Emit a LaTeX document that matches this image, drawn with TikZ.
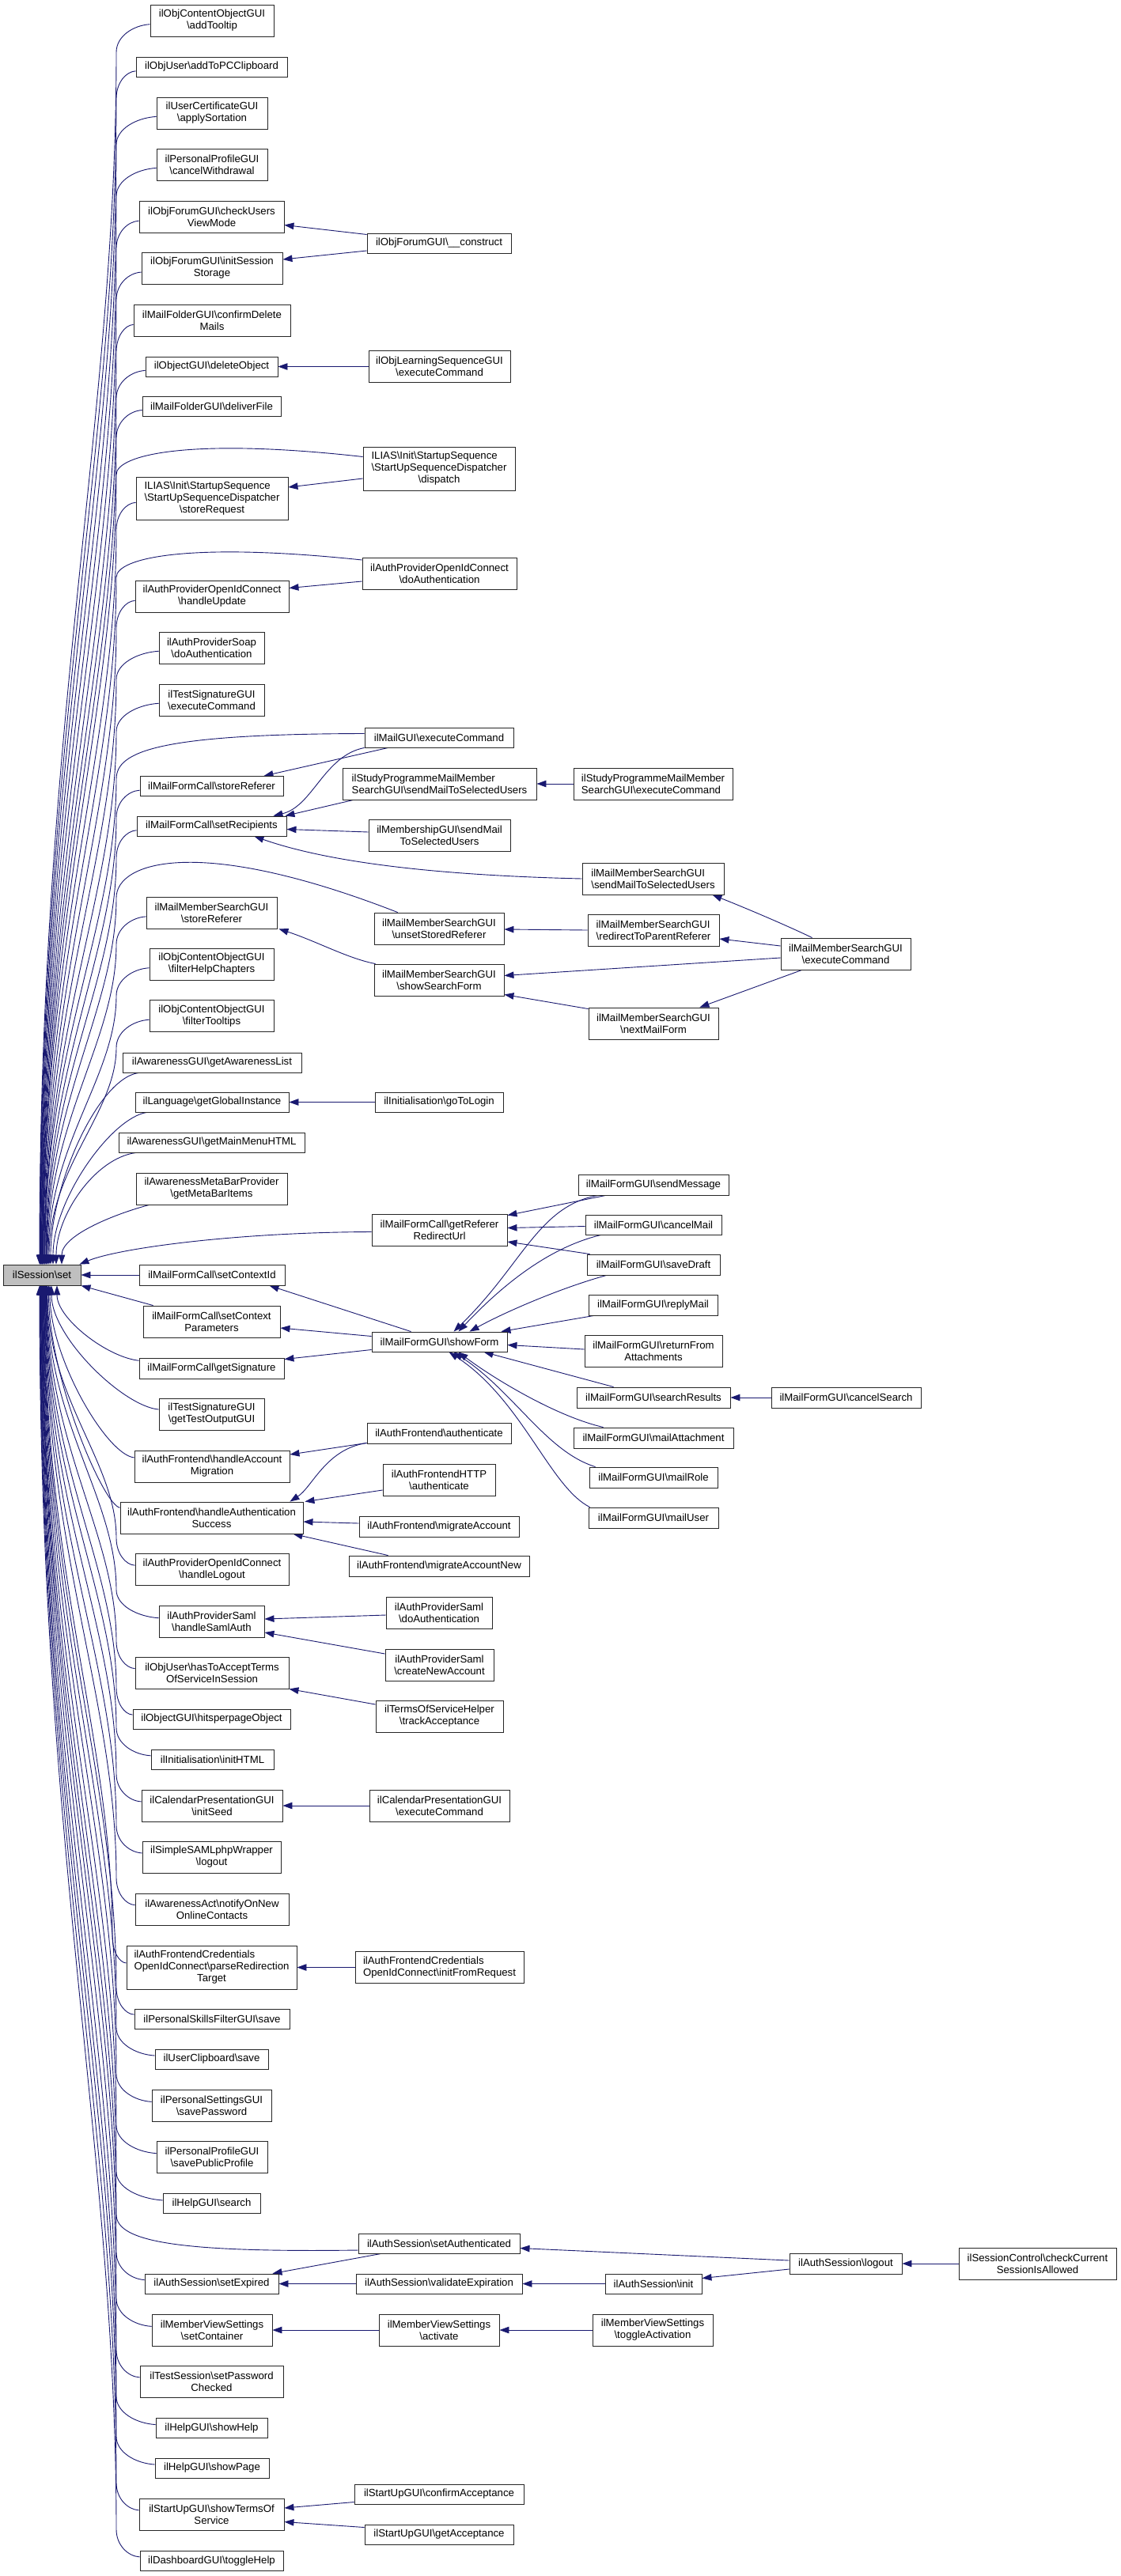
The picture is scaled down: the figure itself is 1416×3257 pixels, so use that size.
\documentclass[tikz,border=0pt]{standalone}
\usepackage{fontspec}
\setmainfont{Liberation Sans}
\usetikzlibrary{arrows.meta,calc}
\pgfdeclarelayer{bg}
\pgfsetlayers{bg,main}
\definecolor{edgeblue}{HTML}{191970}
\definecolor{setgray}{HTML}{BFBFBF}
\newcommand{\BSL}{\textbackslash}
\newcommand{\nodefontsel}{\fontsize{13.2pt}{15pt}\selectfont}
\tikzset{
  nbox/.style={draw=black!85, line width=0.9pt, fill=white, inner sep=0pt, align=center, font=\nodefontsel},
  conn/.style={draw=edgeblue, line width=0.9pt, {Triangle[length=12pt,width=8.5pt]}-}
}
\newcommand{\mynode}[6]{\node[nbox,minimum width=#4pt,minimum height=#5pt] (#1) at (#2,#3) {#6};}
\newcommand{\mynodel}[6]{\node[nbox,align=left,minimum width=#4pt,minimum height=#5pt] (#1) at (#2,#3) {#6};}
\newcommand{\fanU}[3]{%
  \draw[conn] let \p1=(#1.center), \p2=(set.north), \p3=(#1.west) in
    (#2pt,\y2) .. controls (#2pt,{(\y2)+0.45*((\y1)-40-(\y2))}) and (#3pt,{(\y1)-40-0.3*((\y1)-40-(\y2))}) .. (#3pt,{(\y1)-40})
    .. controls (#3pt,{(\y1)-20}) and ({0.5*((\x3)+#3pt)},{(\y1)-6}) .. (#1);}
\newcommand{\fanD}[3]{%
  \draw[conn] let \p1=(#1.center), \p2=(set.south), \p3=(#1.west) in
    (#2pt,\y2) .. controls (#2pt,{(\y2)+0.45*((\y1)+40-(\y2))}) and (#3pt,{(\y1)+40-0.3*((\y1)+40-(\y2))}) .. (#3pt,{(\y1)+40})
    .. controls (#3pt,{(\y1)+20}) and ({0.5*((\x3)+#3pt)},{(\y1)+6}) .. (#1);}
\newcommand{\fanUn}[4]{%
  \draw[conn] let \p1=(#1.center), \p2=(set.north), \p3=(#1.west) in
    (#2pt,\y2) .. controls (#2pt,{(\y2)+0.4*((\y1)-(\y2))}) and ({(\x3)-#3},{(\y1)-#4}) .. (#1);}
\newcommand{\fanDn}[4]{%
  \draw[conn] let \p1=(#1.center), \p2=(set.south), \p3=(#1.west) in
    (#2pt,\y2) .. controls (#2pt,{(\y2)+0.4*((\y1)-(\y2))}) and ({(\x3)-#3},{(\y1)+#4}) .. (#1);}
\begin{document}
\begin{tikzpicture}[x=1pt,y=-1pt]
\useasboundingbox (0,0) rectangle (1416,3257);
% ---------- first level ----------
\mynode{addTooltip}{268}{26}{156}{40}{ilObjContentObjectGUI\\\BSL addTooltip}
\mynode{addToPC}{267.5}{84.5}{191}{25}{ilObjUser\BSL addToPCClipboard}
\mynode{applySort}{268}{143}{140}{40}{ilUserCertificateGUI\\\BSL applySortation}
\mynode{cancelWithdrawal}{268}{208}{140}{40}{ilPersonalProfileGUI\\\BSL cancelWithdrawal}
\mynode{checkUsers}{267.5}{274}{183}{40}{ilObjForumGUI\BSL checkUsers\\ViewMode}
\mynode{initSession}{268}{339}{178}{40}{ilObjForumGUI\BSL initSession\\Storage}
\mynode{confirmDelete}{268}{405}{198}{40}{ilMailFolderGUI\BSL confirmDelete\\Mails}
\mynode{deleteObject}{267.5}{463.5}{167}{25}{ilObjectGUI\BSL deleteObject}
\mynode{deliverFile}{267.5}{513.5}{175}{25}{ilMailFolderGUI\BSL deliverFile}
\mynode{storeRequest}{268}{630}{192}{54}{\rlap{ILIAS\BSL Init\BSL StartupSequence}\phantom{\BSL StartUpSequenceDispatcher}\\\BSL StartUpSequenceDispatcher\\\BSL storeRequest}
\mynode{handleUpdate}{268}{754}{194}{40}{ilAuthProviderOpenIdConnect\\\BSL handleUpdate}
\mynode{soapAuth}{267.5}{819}{133}{40}{ilAuthProviderSoap\\\BSL doAuthentication}
\mynode{testSigExec}{267.5}{885}{133}{40}{ilTestSignatureGUI\\\BSL executeCommand}
\mynode{storeRefMFC}{267.5}{994}{181}{25}{ilMailFormCall\BSL storeReferer}
\mynode{setRecipients}{267.5}{1044.5}{189}{25}{ilMailFormCall\BSL setRecipients}
\mynode{mmsStoreRef}{267.5}{1154}{165}{40}{ilMailMemberSearchGUI\\\BSL storeReferer}
\mynode{filterHelp}{267.5}{1219}{157}{40}{ilObjContentObjectGUI\\\BSL filterHelpChapters}
\mynode{filterTooltips}{267.5}{1284.5}{157}{40}{ilObjContentObjectGUI\\\BSL filterTooltips}
\mynode{getAwareness}{268}{1343.5}{226}{25}{ilAwarenessGUI\BSL getAwarenessList}
\mynode{getGlobal}{268}{1393.5}{194}{25}{ilLanguage\BSL getGlobalInstance}
\mynode{getMainMenu}{267.5}{1444.5}{235}{25}{ilAwarenessGUI\BSL getMainMenuHTML}
\mynode{getMetaBar}{267.5}{1503}{191}{40}{ilAwarenessMetaBarProvider\\\BSL getMetaBarItems}
\node[nbox,fill=setgray,minimum width=98pt,minimum height=26pt] (set) at (53,1612) {ilSession\BSL set};
\mynode{setContextId}{268}{1612}{184}{26}{ilMailFormCall\BSL setContextId}
\mynode{setContextParams}{267.5}{1671}{173}{40}{ilMailFormCall\BSL setContext\\Parameters}
\mynode{getSignature}{267.5}{1730}{183}{26}{ilMailFormCall\BSL getSignature}
\mynode{getTestOutput}{267.5}{1788}{133}{40}{ilTestSignatureGUI\\\BSL getTestOutputGUI}
\mynode{handleAccMig}{268}{1854}{196}{40}{ilAuthFrontend\BSL handleAccount\\Migration}
\mynode{handleAuthSucc}{267.5}{1919}{231}{40}{ilAuthFrontend\BSL handleAuthentication\\Success}
\mynode{handleLogout}{268}{1984.5}{194}{40}{ilAuthProviderOpenIdConnect\\\BSL handleLogout}
\mynode{handleSaml}{267.5}{2050}{133}{40}{ilAuthProviderSaml\\\BSL handleSamlAuth}
\mynode{hasToAccept}{268}{2115}{194}{40}{ilObjUser\BSL hasToAcceptTerms\\OfServiceInSession}
\mynode{hitsperpage}{267.5}{2173.5}{199}{25}{ilObjectGUI\BSL hitsperpageObject}
\mynode{initHTML}{268.5}{2224.5}{155}{25}{ilInitialisation\BSL initHTML}
\mynode{initSeed}{268}{2283}{178}{40}{ilCalendarPresentationGUI\\\BSL initSeed}
\mynode{samlLogout}{267.5}{2348}{175}{40}{ilSimpleSAMLphpWrapper\\\BSL logout}
\mynode{notifyOnNew}{268}{2414}{194}{40}{ilAwarenessAct\BSL notifyOnNew\\OnlineContacts}
\mynode{parseRedir}{267.5}{2487.5}{215}{55}{\rlap{ilAuthFrontendCredentials}\phantom{OpenIdConnect\BSL parseRedirection}\\OpenIdConnect\BSL parseRedirection\\Target}
\mynode{skillsSave}{268}{2552.5}{196}{25}{ilPersonalSkillsFilterGUI\BSL save}
\mynode{clipSave}{267.5}{2603.5}{143}{25}{ilUserClipboard\BSL save}
\mynode{savePassword}{267.5}{2662}{151}{40}{ilPersonalSettingsGUI\\\BSL savePassword}
\mynode{savePublic}{268}{2727}{140}{40}{ilPersonalProfileGUI\\\BSL savePublicProfile}
\mynode{helpSearch}{267.5}{2786}{123}{25}{ilHelpGUI\BSL search}
\mynode{setExpired}{267.5}{2887.5}{169}{25}{ilAuthSession\BSL setExpired}
\mynode{setContainer}{268}{2946}{152}{40}{ilMemberViewSettings\\\BSL setContainer}
\mynode{setPwChecked}{267.5}{3011}{181}{40}{ilTestSession\BSL setPassword\\Checked}
\mynode{showHelp}{267.5}{3070}{141}{25}{ilHelpGUI\BSL showHelp}
\mynode{showPage}{268}{3120.5}{144}{25}{ilHelpGUI\BSL showPage}
\mynode{showTerms}{267.5}{3179}{183}{40}{ilStartUpGUI\BSL showTermsOf\\Service}
\mynode{toggleHelp}{267.5}{3238}{181}{25}{ilDashboardGUI\BSL toggleHelp}
% ---------- second level ----------
\mynode{construct}{555}{307.5}{182}{25}{ilObjForumGUI\BSL\_\_construct}
\mynode{lsExec}{555.5}{463}{179}{40}{ilObjLearningSequenceGUI\\\BSL executeCommand}
\mynode{dispatch}{555}{592.5}{192}{55}{\rlap{ILIAS\BSL Init\BSL StartupSequence}\phantom{\BSL StartUpSequenceDispatcher}\\\BSL StartUpSequenceDispatcher\\\BSL dispatch}
\mynode{oidcAuth}{555.5}{725}{195}{40}{ilAuthProviderOpenIdConnect\\\BSL doAuthentication}
\mynode{mailGuiExec}{555}{932.5}{188}{25}{ilMailGUI\BSL executeCommand}
\mynodel{spSend}{555.5}{991}{245}{40}{ilStudyProgrammeMailMember\\SearchGUI\BSL sendMailToSelectedUsers}
\mynode{membSend}{555.5}{1056}{179}{40}{ilMembershipGUI\BSL sendMail\\ToSelectedUsers}
\mynode{unsetStored}{555}{1174}{164}{40}{ilMailMemberSearchGUI\\\BSL unsetStoredReferer}
\mynode{showSearch}{555}{1239}{164}{40}{ilMailMemberSearchGUI\\\BSL showSearchForm}
\mynode{goToLogin}{555}{1393.5}{162}{25}{ilInitialisation\BSL goToLogin}
\mynode{getReferer}{555.5}{1555}{171}{40}{ilMailFormCall\BSL getReferer\\RedirectUrl}
\mynode{showForm}{555.5}{1696.5}{171}{25}{ilMailFormGUI\BSL showForm}
\mynode{afAuth}{555}{1812}{182}{26}{ilAuthFrontend\BSL authenticate}
\mynode{afHttp}{555}{1871}{142}{40}{ilAuthFrontendHTTP\\\BSL authenticate}
\mynode{migrate}{555}{1930}{202}{26}{ilAuthFrontend\BSL migrateAccount}
\mynode{migrateNew}{555}{1980}{228}{26}{ilAuthFrontend\BSL migrateAccountNew}
\mynode{samlAuth}{555}{2039}{134}{40}{ilAuthProviderSaml\\\BSL doAuthentication}
\mynode{samlCreate}{555.5}{2105}{137}{40}{ilAuthProviderSaml\\\BSL createNewAccount}
\mynode{track}{555.5}{2170}{161}{40}{ilTermsOfServiceHelper\\\BSL trackAcceptance}
\mynode{calExec}{555.5}{2283}{177}{40}{ilCalendarPresentationGUI\\\BSL executeCommand}
\mynodel{initFromReq}{555.5}{2487.5}{213}{40}{ilAuthFrontendCredentials\\OpenIdConnect\BSL initFromRequest}
\mynode{setAuth}{555}{2836.5}{204}{25}{ilAuthSession\BSL setAuthenticated}
\mynode{validateExp}{555}{2887.5}{210}{25}{ilAuthSession\BSL validateExpiration}
\mynode{activate}{555}{2946}{152}{40}{ilMemberViewSettings\\\BSL activate}
\mynode{confirmAcc}{555}{3153.5}{214}{25}{ilStartUpGUI\BSL confirmAcceptance}
\mynode{getAcc}{555}{3204.5}{188}{25}{ilStartUpGUI\BSL getAcceptance}
% ---------- third level ----------
\mynodel{spExec}{825.5}{991}{201}{40}{ilStudyProgrammeMailMember\\SearchGUI\BSL executeCommand}
\mynodel{mmsSend}{825.5}{1111}{179}{40}{ilMailMemberSearchGUI\\\BSL sendMailToSelectedUsers}
\mynodel{redirect}{826}{1176}{166}{40}{ilMailMemberSearchGUI\\\BSL redirectToParentReferer}
\mynode{nextMail}{826}{1294}{164}{40}{ilMailMemberSearchGUI\\\BSL nextMailForm}
\mynode{sendMessage}{826}{1498}{190}{26}{ilMailFormGUI\BSL sendMessage}
\mynode{cancelMail}{826}{1548.5}{172}{25}{ilMailFormGUI\BSL cancelMail}
\mynode{saveDraft}{826}{1599}{168}{26}{ilMailFormGUI\BSL saveDraft}
\mynode{replyMail}{825.5}{1650}{163}{26}{ilMailFormGUI\BSL replyMail}
\mynode{returnFrom}{826}{1708}{174}{40}{ilMailFormGUI\BSL returnFrom\\Attachments}
\mynode{searchResults}{826}{1767}{194}{26}{ilMailFormGUI\BSL searchResults}
\mynode{mailAttach}{826}{1818}{202}{26}{ilMailFormGUI\BSL mailAttachment}
\mynode{mailRole}{826}{1868}{162}{26}{ilMailFormGUI\BSL mailRole}
\mynode{mailUser}{826}{1919}{164}{26}{ilMailFormGUI\BSL mailUser}
\mynode{authInit}{826}{2887.5}{122}{25}{ilAuthSession\BSL init}
\mynode{toggleAct}{825}{2946}{152}{40}{ilMemberViewSettings\\\BSL toggleActivation}
% ---------- fourth / fifth level ----------
\mynode{mmsExec}{1069}{1206}{164}{40}{ilMailMemberSearchGUI\\\BSL executeCommand}
\mynode{cancelSearch}{1069.5}{1767}{189}{26}{ilMailFormGUI\BSL cancelSearch}
\mynode{logout}{1069}{2862}{142}{26}{ilAuthSession\BSL logout}
\mynode{sessionCtl}{1311.5}{2862}{199}{40}{ilSessionControl\BSL checkCurrent\\SessionIsAllowed}

\begin{pgfonlayer}{bg}
\fill[white] (0,0) rectangle (1416,3257);
% ---------- fan into ilSession\set (above) ----------
\fanU{addTooltip}{50}{147}
\fanU{addToPC}{50.5}{147}
\fanU{applySort}{51}{147}
\fanU{cancelWithdrawal}{51.5}{147}
\fanU{checkUsers}{52}{147}
\fanU{initSession}{52.5}{147}
\fanU{confirmDelete}{53}{147}
\fanU{deleteObject}{53.5}{147}
\fanU{deliverFile}{54}{147}
\fanU{storeRequest}{54.5}{147}
\fanU{handleUpdate}{56}{147}
\fanU{soapAuth}{56.5}{147}
\fanU{testSigExec}{57}{147}
\fanU{storeRefMFC}{58}{147}
\fanU{setRecipients}{58.5}{147}
\fanU{mmsStoreRef}{60}{147}
\fanU{filterHelp}{61}{147}
\fanU{filterTooltips}{62}{147}
\fanUn{getAwareness}{64}{30}{20}
\fanUn{getGlobal}{67}{30}{20}
\fanUn{getMainMenu}{71}{30}{20}
\fanUn{getMetaBar}{78}{20}{30}
\draw[conn] ($(set.north west)+(51,0)$) .. controls (55,1150) and (147,900) .. (147,600) .. controls (147,575) and (240,553) .. ($(dispatch.west)+(0,-15)$);
\draw[conn] ($(set.north west)+(51.5,0)$) .. controls (55.5,1208) and (147,990) .. (147,730) .. controls (147,705) and (240,685) .. ($(oidcAuth.west)+(0,-17)$);
\draw[conn] ($(set.north west)+(53,0)$) .. controls (57,1322) and (147,1169) .. (147,985) .. controls (147,950) and (200,928) .. ($(mailGuiExec.west)+(0,-5)$);
\draw[conn] ($(set.north west)+(55.5,0)$) .. controls (59.5,1390) and (147,1274) .. (147,1135) .. controls (147,1090) and (250,1055) .. (unsetStored);
\draw[conn] ($(set.north east)+(-2,0)$) .. controls (150,1578) and (300,1558) .. ($(getReferer.west)+(0,2.5)$);
% ---------- fan into ilSession\set (below) ----------
\draw[conn] (set.east) -- (setContextId.west);
\draw[conn] (set.south east) -- ($(setContextParams.north west)+(13,0)$);
\fanDn{getSignature}{72}{40}{14}
\fanDn{getTestOutput}{65}{45}{10}
\fanDn{handleAccMig}{63}{35}{15}
\fanDn{handleAuthSucc}{61.5}{20}{15}
\fanD{handleLogout}{60}{147}
\fanD{handleSaml}{59.5}{147}
\fanD{hasToAccept}{59}{147}
\fanD{hitsperpage}{58.5}{147}
\fanD{initHTML}{58}{147}
\fanD{initSeed}{57.5}{147}
\fanD{samlLogout}{57}{147}
\fanD{notifyOnNew}{56.5}{147}
\fanD{parseRedir}{56}{142}
\fanD{skillsSave}{55.5}{147}
\fanD{clipSave}{55}{147}
\fanD{savePassword}{54.5}{147}
\fanD{savePublic}{54}{147}
\fanD{helpSearch}{53.5}{147}
\draw[conn] ($(set.south west)+(49.5,0)$) .. controls (53.5,2154) and (147,2447) .. (147,2800) .. controls (147,2835) and (230,2848) .. ($(setAuth.west)+(0,8.5)$);
\fanD{setExpired}{53}{147}
\fanD{setContainer}{52.5}{147}
\fanD{setPwChecked}{52}{147}
\fanD{showHelp}{51.5}{147}
\fanD{showPage}{51}{147}
\fanD{showTerms}{50.5}{147}
\fanD{toggleHelp}{50}{147}
% ---------- other connectors ----------
\draw[conn] ($(checkUsers.east)+(0,10.5)$) -- ($(construct.west)+(0,-11)$);
\draw[conn] ($(initSession.east)+(0,-11)$) -- ($(construct.west)+(0,9.5)$);
\draw[conn] (deleteObject.east) -- (deleteObject.east -| lsExec.west);
\draw[conn] ($(storeRequest.east)+(0,-14)$) -- ($(dispatch.west)+(0,12.5)$);
\draw[conn] ($(handleUpdate.east)+(0,-10.5)$) -- ($(oidcAuth.west)+(0,10)$);
\draw[conn] ($(storeRefMFC.north east)+(-25,0)$) -- ($(mailGuiExec.south west)+(30,0)$);
\draw[conn] ($(setRecipients.north east)+(-17,0)$) .. controls +(50,-12) and +(-51,10) .. (mailGuiExec.south west);
\draw[conn] ($(setRecipients.north east)+(-2,0)$) -- ($(spSend.south west)+(14,0)$);
\draw[conn] ($(setRecipients.east)+(0,4)$) -- ($(membSend.west)+(0,-4)$);
\draw[conn] ($(setRecipients.south east)+(-41,0)$) .. controls (400,1085) and (520,1106) .. (mmsSend.west);
\draw[conn] (spSend.east) -- (spExec.west);
\draw[conn] ($(mmsSend.south east)+(-15,0)$) .. controls (935,1145) and (990,1168) .. ($(mmsExec.north west)+(40,0)$);
\draw[conn] ($(redirect.east)+(0,11)$) -- ($(mmsExec.west)+(0,-10)$);
\draw[conn] ($(showSearch.east)+(0,-5.5)$) -- ($(mmsExec.west)+(0,5)$);
\draw[conn] ($(nextMail.north east)+(-24,0)$) -- ($(mmsExec.south west)+(27,0)$);
\draw[conn] ($(showSearch.south east)+(0,-2)$) -- ($(nextMail.north west)+(0,2)$);
\draw[conn] ($(unsetStored.east)+(0,1)$) -- (redirect.west);
\draw[conn] ($(mmsStoreRef.south east)+(2,0)$) .. controls (400,1190) and (440,1212) .. ($(showSearch.north west)+(2,0)$);
\draw[conn] (getGlobal.east) -- (goToLogin.west);
\draw[conn] ($(getReferer.north east)+(0,2)$) -- ($(sendMessage.south west)+(35,0)$);
\draw[conn] ($(getReferer.east)+(0,-2.5)$) -- ($(cancelMail.west)+(0,2)$);
\draw[conn] ($(getReferer.east)+(0,15)$) -- ($(saveDraft.north west)+(4,0)$);
\draw[conn] ($(showForm.north)+(18,0)$) .. controls (660,1600) and (680,1525) .. ($(sendMessage.south west)+(25,0)$);
\draw[conn] ($(showForm.north)+(24,0)$) .. controls (630,1630) and (690,1578) .. ($(cancelMail.south west)+(20,0)$);
\draw[conn] ($(showForm.north)+(38,0)$) .. controls (640,1658) and (710,1628) .. ($(saveDraft.south west)+(25,0)$);
\draw[conn] ($(showForm.north east)+(-8,0)$) -- ($(replyMail.south west)+(7,0)$);
\draw[conn] ($(showForm.east)+(0,4)$) -- ($(returnFrom.west)+(0,-2)$);
\draw[conn] ($(showForm.south)+(56,0)$) -- ($(searchResults.north west)+(47,0)$);
\draw[conn] ($(showForm.south)+(24,0)$) .. controls (620,1740) and (700,1790) .. ($(mailAttach.north west)+(38,0)$);
\draw[conn] ($(showForm.south)+(18,0)$) .. controls (650,1760) and (690,1835) .. ($(mailRole.north west)+(8,0)$);
\draw[conn] ($(showForm.south)+(12,0)$) .. controls (660,1770) and (695,1880) .. ($(mailUser.north west)+(2,0)$);
\draw[conn] (searchResults.east) -- (cancelSearch.west);
\draw[conn] ($(setContextId.south east)+(-20,0)$) -- ($(showForm.north west)+(50,0)$);
\draw[conn] ($(setContextParams.east)+(0,8)$) -- ($(showForm.west)+(0,-7)$);
\draw[conn] ($(getSignature.north east)+(0,2)$) -- ($(showForm.west)+(0,10)$);
\draw[conn] ($(handleAccMig.east)+(0,-15)$) -- ($(afAuth.south west)+(0,-1)$);
\draw[conn] ($(handleAuthSucc.north east)+(-17,0)$) .. controls (395,1880) and (412,1832) .. ($(afAuth.south west)+(0,-1)$);
\draw[conn] ($(handleAuthSucc.north east)+(2,0)$) -- ($(afHttp.west)+(0,13)$);
\draw[conn] ($(handleAuthSucc.east)+(0,5)$) -- ($(migrate.west)+(0,-4)$);
\draw[conn] ($(handleAuthSucc.south east)+(-13,0)$) -- ($(migrateNew.north west)+(50,0)$);
\draw[conn] ($(handleSaml.east)+(0,-3)$) -- ($(samlAuth.west)+(0,3)$);
\draw[conn] ($(handleSaml.east)+(0,14)$) -- ($(samlCreate.west)+(0,-14)$);
\draw[conn] (hasToAccept.south east) -- ($(track.west)+(0,-15)$);
\draw[conn] (initSeed.east) -- (calExec.west);
\draw[conn] (parseRedir.east) -- (initFromReq.west);
\draw[conn] ($(setExpired.north east)+(-8,0)$) -- ($(setAuth.south west)+(29,0)$);
\draw[conn] (setExpired.east) -- (validateExp.west);
\draw[conn] (setContainer.east) -- (activate.west);
\draw[conn] ($(showTerms.east)+(0,-8)$) -- ($(confirmAcc.west)+(0,10)$);
\draw[conn] ($(showTerms.east)+(0,9.5)$) -- ($(getAcc.west)+(0,-9)$);
\draw[conn] ($(setAuth.east)+(0,6)$) -- ($(logout.west)+(0,-4)$);
\draw[conn] ($(authInit.east)+(0,-7)$) -- ($(logout.west)+(0,7)$);
\draw[conn] (validateExp.east) -- (authInit.west);
\draw[conn] (activate.east) -- (toggleAct.west);
\draw[conn] (logout.east) -- (sessionCtl.west);
\end{pgfonlayer}
\end{tikzpicture}
\end{document}
